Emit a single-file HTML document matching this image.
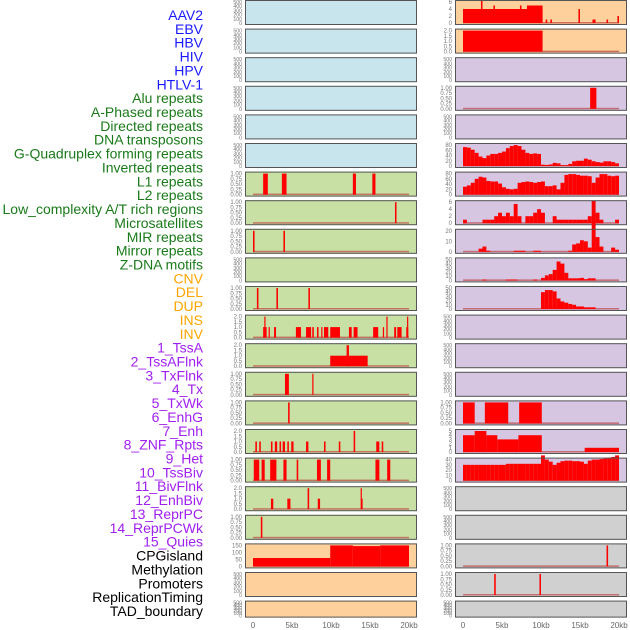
<!DOCTYPE html>
<html><head><meta charset="utf-8"><style>
body{margin:0;background:#fff;width:630px;height:630px;overflow:hidden}
svg{display:block}
</style></head><body>
<svg id="chart" width="630" height="630" xmlns="http://www.w3.org/2000/svg" font-family="Liberation Sans, sans-serif"></svg>
<script>
const rowLabels = ["AAV2","EBV","HBV","HIV","HPV","HTLV-1","Alu repeats","A-Phased repeats","Directed repeats","DNA transposons","G-Quadruplex forming repeats","Inverted repeats","L1 repeats","L2 repeats","Low_complexity A/T rich regions","Microsatellites","MIR repeats","Mirror repeats","Z-DNA motifs","CNV","DEL","DUP","INS","INV","1_TssA","2_TssAFlnk","3_TxFlnk","4_Tx","5_TxWk","6_EnhG","7_Enh","8_ZNF_Rpts","9_Het","10_TssBiv","11_BivFlnk","12_EnhBiv","13_ReprPC","14_ReprPCWk","15_Quies","CPGisland","Methylation","Promoters","ReplicationTiming","TAD_boundary"];
const labelGroups = [6,13,5,15,5];
const groupColors = ["#1a1aff","#1a7a1a","#ffa500","#a020f0","#000000"];
const xTicks = [0,5,10,15,20];
const xTickLabels = ["0","5kb","10kb","15kb","20kb"];
const emptyTicks = [0,100,200,300,400,500];
const ticks1 = [0,0.25,0.5,0.75,1];
const ticks2 = [0,0.5,1,1.5,2];
// left column panels: bg, ticks, segments [startKb,endKb,value]
const leftBg = ["b","b","b","b","b","b","g","g","g","g","g","g","g","g","g","g","g","g","g","o","o","o"];
const leftTicks = [null,null,null,null,null,null,ticks1,ticks1,ticks1,null,ticks1,ticks2,ticks2,ticks1,ticks1,ticks2,ticks1,ticks2,ticks1,[0,50,100,150],null,null];
const leftSegs = [[],[],[],[],[],[],
 [[1.3,1.9,1],[3.7,4.3,1],[12.8,13.2,1],[15.3,15.7,1]],
 [[18.2,18.4,1]],
 [[0,0.2,1],[3.9,4.1,1]],
 [],
 [[0.5,0.7,1],[3.0,3.2,1],[7.1,7.3,1]],
 [[1.3,1.75,1],[1.45,1.55,2],[2.0,2.1,1],[2.7,2.95,1],[5.5,6.15,1],[6.8,7.45,1],[7.6,7.8,1],[8.2,8.4,1],[8.75,8.9,1],[9.1,9.65,1],[9.9,11.15,1],[12.3,12.65,1],[12.9,13.4,1],[15.4,16.05,1],[16.65,16.8,1],[17.1,17.2,2],[18.1,18.35,1],[18.5,19.05,1],[19.65,19.9,1],[19.75,19.85,2]],
 [[9.9,14.7,1],[12.0,12.3,2]],
 [[4.1,4.6,1],[7.6,7.7,1]],
 [[4.5,4.7,1]],
 [[0.3,0.5,1],[0.8,1.0,1],[2.3,2.5,1],[2.8,3.1,1],[3.4,3.6,1],[3.8,4.1,1],[4.4,4.6,1],[4.9,5.2,1],[6.8,7.1,1],[9.1,9.3,1],[11.0,11.2,1],[12.9,13.1,2],[15.8,16.2,1],[16.5,16.7,1]],
 [[0.1,0.8,1],[1.1,1.5,1],[2.2,3.0,1],[3.9,4.3,1],[5.6,5.8,1],[8.2,8.7,1],[9.5,9.9,1],[15.7,16.2,1],[17.2,17.6,1]],
 [[2.3,2.6,1],[4.4,4.8,1],[7.0,7.2,2],[8.3,8.6,1],[13.8,13.9,2],[13.9,14.0,1]],
 [[1.0,1.2,1]],
 [[0,9.9,60],[9.9,12.8,150],[12.8,16.3,145],[16.3,20,150]],
 [],[]];
// right column panels
const rightBg = ["o","o","p","p","p","p","p","p","p","p","p","p","p","p","p","p","p","y","y","y","y","y"];
const rightTicks = [[0,2,4,6],ticks2,null,ticks1,null,[0,20,40,60,80],[0,20,40,60,80],[0,2,4,6],[0,10,20],[0,10,20,30,40,50],[0,10,20,30,40,50],null,null,null,ticks1,[0,1,2,3,4,5],[0,10,20,30,40],null,null,ticks1,ticks1,null];
const rightSegs = [
 [[0,10.2,4],[8.2,10.2,5],[2.3,2.5,7],[3.9,4.1,5],[7.3,7.5,5],[10.6,10.8,1],[11.2,11.4,1],[14.8,15.0,4],[16.6,17.0,1],[18.4,18.6,1],[19.8,20.0,2]],
 [[0,10.2,2]],
 [],
 [[16.3,17.1,1]],
 [],
 "gquad","inv","lowc","micro","mirror","del",
 [],[],[],
 [[0,1.5,1],[2.8,5.8,1],[7.2,10.1,1]],
 [[0,1.5,4],[1.5,3.0,5],[3.0,4.4,4],[4.4,7.1,3],[7.1,10.1,4],[15.6,20,1]],
 "tssbiv",
 [],[],
 [[18.4,18.6,1]],
 [[4.0,4.2,1],[9.8,10.0,1]],
 []];
// binned profiles, 0.5kb bins from 0 to 20kb
const gquadBins = [72,70,62,50,36,30,40,46,46,50,55,68,76,80,76,62,50,46,48,46,5,4,6,12,10,3,3,8,18,20,20,28,24,18,15,13,18,18,15,10];
const invBins = [30,35,45,60,68,65,52,50,50,42,28,22,20,22,45,48,50,48,45,48,50,32,32,35,20,45,75,78,78,75,72,72,70,45,65,78,78,72,70,72];
const lowcBins = [1,0,0,0,0,1,1,1,2,3,2,3,2,5.5,2,0,2,2,3,4,3,0,0,2,1,1,1,1,1,1,1,1,2,6.5,3,1,0,0,0,1];
const microBins = [0,0,0,0,3,5,1,0,0,0,0,0,0,1,1,1,0,0,1,1,0,0,0,0,0,0,0,1,7,8,11,10,4,28,14,5,0,0,4,2];
const mirrorBins = [0,0,0,0,0,2,0,0,0,0,0,2,2,2,0,0,0,0,2,0,6,12,15,25,45,40,18,5,5,5,6,3,5,5,0,0,0,0,0,0];
const delBins = [0,0,0,0,0,0,0,0,0,0,0,0,0,0,0,0,0,0,0,0,40,45,45,42,25,18,15,12,10,6,6,4,4,4,0,0,0,0,0,0];
const tssbivBins = [30,30,30,30,30,30,30,30,30,30,30,32,32,32,32,32,32,32,32,32,48,40,36,30,34,37,38,38,37,37,36,32,38,40,40,41,42,44,45,48];
const binMap = {gquad:gquadBins,inv:invBins,lowc:lowcBins,micro:microBins,mirror:mirrorBins,del:delBins,tssbiv:tssbivBins};

const NS="http://www.w3.org/2000/svg";
const svg=document.getElementById('chart');
const bgCol={b:"#c8e4ec",g:"#c8e0a4",o:"#fdd09c",p:"#d6c6e2",y:"#d0d0d0"};
function mk(tag,attrs,parent){const e=document.createElementNS(NS,tag);for(const k in attrs)e.setAttribute(k,attrs[k]);(parent||svg).appendChild(e);return e;}
const colX=[245,455], panelW=172;
function xScale(col,kb){return colX[col]+8+kb*7.8;}
function rowTop(i){return i*28.6;}
function rowH(i){return i===21?17:25;}

let li=0;
labelGroups.forEach((n,g)=>{for(let k=0;k<n;k++){
 const t=mk('text',{x:203,y:15+li*13.86+5,'text-anchor':'end','font-size':'14',fill:groupColors[g]});
 t.textContent=rowLabels[li];
 
 
 li++;}});

function fmt(ticks,v){if(ticks===ticks1)return v.toFixed(2);if(ticks===ticks2)return v.toFixed(1);return String(v);}
function drawPanel(col,i,bg,ticks,segs){
 const top=rowTop(i),h=rowH(i),x0=colX[col];
 const g=mk('g',{});
 
 
 mk('rect',{x:x0,y:top,width:panelW,height:h,fill:bgCol[bg]},g);
 const tk=ticks||emptyTicks;
 const ymax=tk[tk.length-1];
 const yb=top+h-2, ys=(h-4)/ymax;
 const fs=ticks?6:5.2;
 tk.forEach(v=>{const t=mk('text',{x:x0-3,y:yb-v*ys+2,'text-anchor':'end','font-size':fs,fill:'#777'},g);t.textContent=fmt(ticks,v);
  });
 let list=segs;
 if(typeof segs==='string'){const b=binMap[segs];list=b.map((v,k)=>[k*0.5,k*0.5+0.5,v]);}
 if(ticks){
  const bl=mk('rect',{x:xScale(col,0),y:yb-1,width:xScale(col,20)-xScale(col,0),height:1.5,fill:'rgba(190,70,70,0.7)'},g);
  
 }
 list.forEach(s=>{if(s[2]<=0)return;const x1=xScale(col,s[0]),x2=xScale(col,s[1]);
  const r=mk('rect',{x:x1,y:yb-s[2]*ys,width:Math.max(1.2,x2-x1),height:s[2]*ys,fill:'#ff0000'},g);
  });
 mk('rect',{x:x0+0.5,y:top+0.5,width:panelW-1,height:h-1,fill:'none',stroke:'#555','stroke-width':1},g);
}
for(let i=0;i<22;i++){drawPanel(0,i,leftBg[i],leftTicks[i],leftSegs[i]);drawPanel(1,i,rightBg[i],rightTicks[i],rightSegs[i]);}
[0,1].forEach(col=>{xTicks.forEach((v,k)=>{const t=mk('text',{x:xScale(col,v),y:628,'text-anchor':'middle','font-size':'8',fill:'#666'});t.textContent=xTickLabels[k];
 });});
</script>
</body></html>
